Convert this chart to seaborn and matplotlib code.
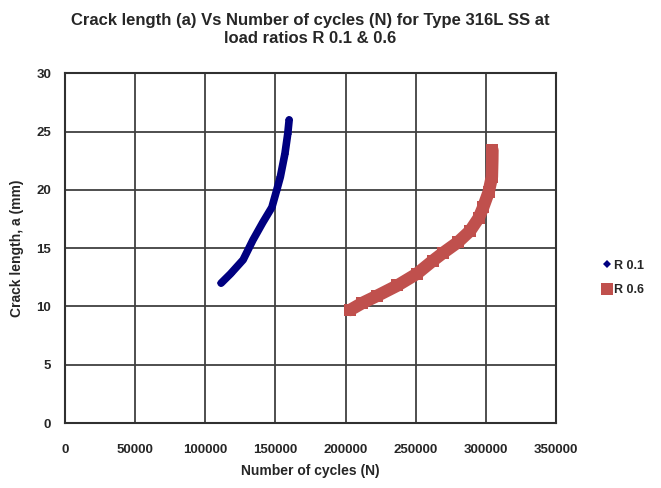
import matplotlib
matplotlib.use("Agg")
import matplotlib.pyplot as plt
import seaborn as sns
import pandas as pd

# values
n_r01 = [111300, 118000, 127000, 134000, 141000, 147500, 151000, 153500, 156800, 158800, 159800]
a_r01 = [12.0, 12.8, 14.0, 15.7, 17.2, 18.5, 20.0, 21.1, 23.1, 24.8, 26.0]

n_r06 = [203300, 212000, 222300, 237000, 250800, 262000, 269600, 280000, 288900,
         295000, 298100, 302000, 304300, 304600, 304700]
a_r06 = [9.7, 10.3, 10.9, 11.8, 12.8, 13.9, 14.6, 15.5, 16.5,
         17.6, 18.5, 19.8, 21.1, 22.5, 23.4]

series_names = ["R 0.1", "R 0.6"]
x_ticks = [0, 50000, 100000, 150000, 200000, 250000, 300000, 350000]
y_ticks = [0, 5, 10, 15, 20, 25, 30]

df = pd.concat([
    pd.DataFrame({"N": n_r01, "a": a_r01, "load": series_names[0]}),
    pd.DataFrame({"N": n_r06, "a": a_r06, "load": series_names[1]}),
], ignore_index=True)

sns.set_style("white")
plt.rcParams["font.family"] = ["Liberation Sans", "DejaVu Sans"]
plt.rcParams["font.weight"] = "bold"

fig = plt.figure(figsize=(6.61, 4.88), dpi=100)
ax = fig.add_axes([0.0983, 0.133, 0.7428, 0.717])

colors = {"R 0.1": "#000080", "R 0.6": "#C0504D"}
sns.lineplot(data=df[df["load"] == "R 0.1"], x="N", y="a", ax=ax, sort=False,
             color=colors["R 0.1"], lw=5.5, marker="D", markersize=4,
             markeredgewidth=0, label="R 0.1", solid_capstyle="round",
             solid_joinstyle="round")
sns.lineplot(data=df[df["load"] == "R 0.6"], x="N", y="a", ax=ax, sort=False,
             color=colors["R 0.6"], lw=9, marker="s", markersize=8,
             markeredgewidth=0, label="R 0.6", solid_joinstyle="round")

ax.set_xlim(0, 350000)
ax.set_ylim(0, 30)
ax.set_xticks(x_ticks)
ax.set_yticks(y_ticks)
ax.grid(True, color="#404040", lw=1.3)
ax.set_axisbelow(True)
for sp in ax.spines.values():
    sp.set_color("#303030")
    sp.set_linewidth(1.5)
ax.tick_params(axis="x", length=0, pad=15, labelsize=9.5)
ax.tick_params(axis="y", length=0, pad=10, labelsize=9.5)
for lab in ax.get_xticklabels() + ax.get_yticklabels():
    lab.set_fontweight("bold")

ax.set_xlabel("Number of cycles (N)", fontsize=10, fontweight="bold", labelpad=6)
ax.set_ylabel("Crack length, a (mm)", fontsize=10, fontweight="bold", labelpad=9)
ax.set_title("Crack length (a) Vs Number of cycles (N) for Type 316L SS at\nload ratios R 0.1 & 0.6",
             fontsize=12, fontweight="bold", pad=22, linespacing=1.25)

leg = ax.legend(loc="center left", bbox_to_anchor=(1.07, 0.415), frameon=False,
                handlelength=0.8, handletextpad=0.2, labelspacing=1.0,
                prop={"weight": "bold", "size": 9})
for h in leg.get_lines():
    h.set_linewidth(0)

fig.savefig("out.png", dpi=100)
